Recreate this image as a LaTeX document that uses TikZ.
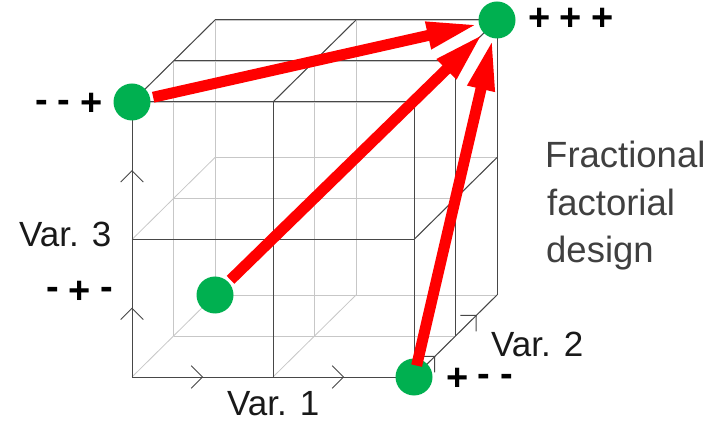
\documentclass[tikz,border=0pt]{standalone}
\usepackage{fontspec}
\setmainfont{Liberation Sans}
\newfontfamily\signfont[WordSpace=0.9]{Liberation Sans}
\usetikzlibrary{arrows.meta}
\definecolor{dotgreen}{HTML}{00B050}
\definecolor{txtgrey}{HTML}{404040}
\newcommand\rhy{\raisebox{0.1em}{-}}
\begin{document}
\begin{tikzpicture}[x=1pt,y=-1pt,
  hidden/.style={draw=black!22,line width=0.8pt},
  edge/.style={draw=black!72,line width=1pt},
  dot/.style={circle,fill=dotgreen,minimum size=37pt,inner sep=0pt},
  bigarrow/.style={draw=red,line width=11pt,-{Triangle[length=52pt,width=25pt]}},
  sign/.style={inner sep=0pt,anchor=base west,text height=24pt,text depth=0pt,font=\signfont\bfseries\fontsize{38}{40}\selectfont},
  varlbl/.style={inner sep=0pt,anchor=base west,text height=26pt,text depth=0pt,text=black!90,font=\fontsize{35}{40}\selectfont},
  title/.style={inner sep=0pt,anchor=base west,text=txtgrey,font=\fontsize{36.5}{40}\selectfont},
  chev/.pic={\draw[edge] (-11.3pt,11.3pt) -- (0pt,0pt) -- (-11.3pt,-11.3pt);}
]
\useasboundingbox (0,0) rectangle (726,422);
\begin{scope}[shift={(132pt,-377pt)},x={(282pt,0pt)},y={(0pt,275pt)},z={(83pt,82pt)}]
 \foreach \a in {0,0.5,1}{\foreach \b in {0,0.5,1}{
   \draw[hidden] (0,\b,\a) -- (1,\b,\a);
   \draw[hidden] (\a,0,\b) -- (\a,1,\b);
   \draw[hidden] (\a,\b,0) -- (\a,\b,1);
 }}
 \foreach \t in {0,0.5,1}{
   \draw[edge] (0,\t,0) -- (1,\t,0);
   \draw[edge] (\t,0,0) -- (\t,1,0);
   \draw[edge] (\t,1,0) -- (\t,1,1);
 }
 \foreach \t in {0.5,1}{
   \draw[edge] (0,1,\t) -- (1,1,\t);
   \draw[edge] (1,0,\t) -- (1,1,\t);
 }
 \foreach \t in {0,0.5}{
   \draw[edge] (1,\t,0) -- (1,\t,1);
 }
 \pic[rotate=90] at (0,0.25,0) {chev};
 \pic[rotate=90] at (0,0.75,0) {chev};
 \pic at (0.25,0,0) {chev};
 \pic at (0.75,0,0) {chev};
 \pic[rotate=44.6] at (1,0,0.25) {chev};
 \pic[rotate=44.6] at (1,0,0.75) {chev};
 \node[dot] (mmp) at (0,1,0) {};
 \node[dot] (ppp) at (1,1,1) {};
 \node[dot] (mpm) at (0,0,1) {};
 \node[dot] (pmm) at (1,0,0) {};
\end{scope}
\draw[bigarrow,shorten <=3pt] (mmp) -- (ppp);
\draw[bigarrow,shorten <=3pt] (mpm) -- (ppp);
\draw[bigarrow,shorten <=-7pt] (pmm) -- (ppp);
\node[sign] (lmmp) at (35.5,116) {\rhy{} \rhy{} +};
\node[sign] (lmpm) at (46.5,303) {\rhy{} + \rhy};
\node[sign] (lpmm) at (446,390) {+ \rhy{} \rhy};
\node[sign] (lppp) at (528,31) {+ + +};
\node[varlbl] (v3) at (19,247) {Var. 3};
\node[varlbl] (v1) at (227,415) {Var. 1};
\node[varlbl] (v2) at (491,356) {Var. 2};
\node[title] (t1) at (545,168) {Fractional};
\node[title] (t2) at (547,216) {factorial};
\node[title] (t3) at (546,263) {design};
\end{tikzpicture}
\end{document}
